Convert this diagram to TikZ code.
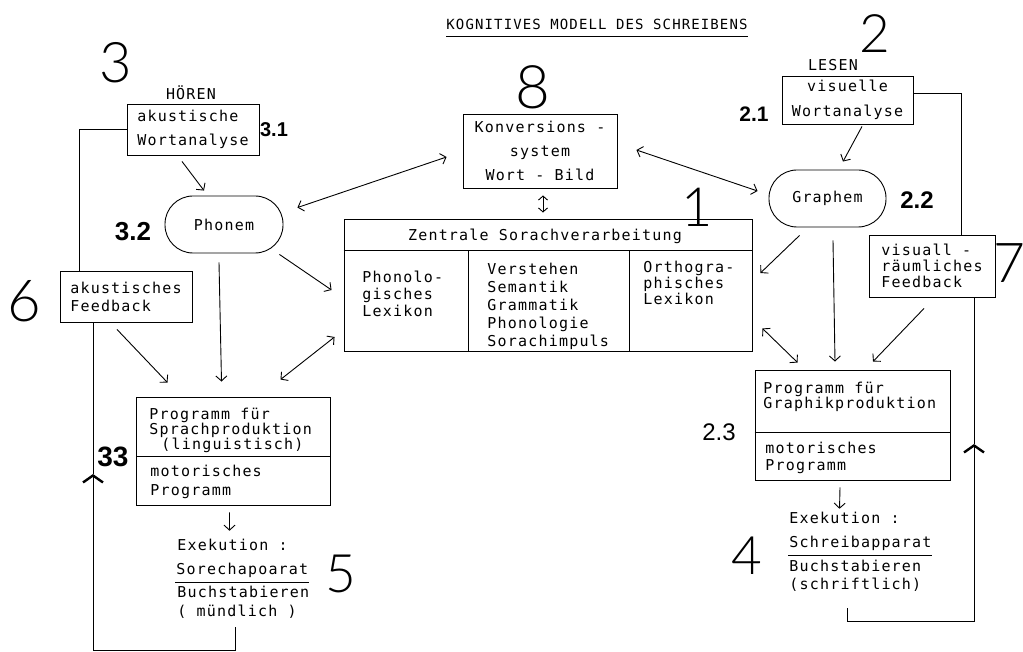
\documentclass[tikz,border=0pt]{standalone}
\usepackage{fontspec}
\newfontfamily\tw[LetterSpace=8]{DejaVu Sans Mono}
\newfontfamily\hand{Lato Light}
\newfontfamily\handb{Liberation Sans}
\usetikzlibrary{arrows.meta,calc}
\begin{document}
\begin{tikzpicture}[x=1pt,y=-1pt,line width=0.9pt,
  every node/.style={inner sep=0pt},
  tx/.style={font=\tw\fontsize{15}{#1}\selectfont,align=left},
  tx/.default=17,
  bx/.style={draw},
  arr/.style={-{Straight Barb[length=5pt,width=11pt]}},
  darr/.style={{Straight Barb[length=5pt,width=11pt]}-{Straight Barb[length=5pt,width=11pt]}},
  sdarr/.style={{Straight Barb[length=4pt,width=9pt]}-{Straight Barb[length=4pt,width=9pt]}},
  looparr/.style={-{Straight Barb[length=7pt,width=20pt,line width=2.4pt]}},
  num/.style={font=\hand\fontsize{#1}{#1}\selectfont},
  lab/.style={font=\handb\bfseries\fontsize{#1}{#1}\selectfont},
  labt/.style={font=\handb\fontsize{#1}{#1}\selectfont}]
\useasboundingbox (0,0) rectangle (1023,652);
\fill[white] (0,0) rectangle (1023,652);

% title
\node[font=\tw\fontsize{14}{14}\selectfont] (title) at (597,24) {KOGNITIVES MODELL DES SCHREIBENS};
\draw ($(title.south west)+(0,7)$) -- ($(title.south east)+(0,7)$);

% handwritten numbers
\node[num=56] (n3) at (116,63) {3};
\node[num=53] (n2) at (875,34) {2};
\node[num=60] (n8) at (533,87) {8};
\node[num=54] (n1) at (697,207) {1};
\node[num=58] (n6) at (24,301) {6};
\node[num=55] (n7) at (1009,263) {7};
\node[num=53] (n5) at (341,574) {5};
\node[num=53] (n4) at (747,556) {4};
\node[lab=20] (l31) at (274,130) {3.1};
\node[lab=26] (l32) at (133,232) {3.2};
\node[lab=21] (l21) at (754,114) {2.1};
\node[lab=24] (l22) at (917,200) {2.2};
\node[labt=24] (l23) at (719,432) {2.3};
\node[lab=28] (l33) at (113,457) {33};

% left side
\node[tx] (hoeren) at (191,93) {HÖREN};
\node[bx,tx=24,minimum width=132pt,minimum height=51pt] (akw) at (193,129.5) {akustische\\Wortanalyse};
\node[bx,tx,rounded corners=28pt,minimum width=118pt,minimum height=57pt] (phon) at (224,224.5) {Phonem};
\node[bx,tx=18,minimum width=132pt,minimum height=51pt] (akf) at (126,296.5) {akustisches\\Feedback};
\node[bx,minimum width=194pt,minimum height=108pt] (pl) at (233.5,451) {};
\draw ($(pl.west)+(0,5)$) -- ($(pl.east)+(0,5)$);
\node[tx=15,anchor=west] (plt1) at (149,430) {Programm für\\Sprachproduktion\\\hspace*{12pt}(linguistisch)};
\node[tx=19,anchor=west] (plt2) at (150,482) {motorisches\\Programm};
\node[tx,anchor=west] (exl1) at (177,545) {Exekution :};
\node[tx,anchor=base west] (exl2) at (176,574) {Sorechapoarat};
\draw ($(exl2.base west)+(-1,8)$) -- ($(exl2.base east)+(0,8)$);
\node[tx=19,anchor=west] (exl3) at (177,602.5) {Buchstabieren\\( mündlich )};

% centre
\node[bx,tx=24,align=center,minimum width=154pt,minimum height=74pt] (konv) at (540,151) {Konversions -\\system\\Wort - Bild};
\node[bx,minimum width=408pt,minimum height=132pt] (zsv) at (548,285) {};
\draw ($(zsv.north west)+(0,32)$) -- ($(zsv.north east)+(0,32)$);
\draw ($(zsv.north west)+(125,32)$) -- ($(zsv.south west)+(125,0)$);
\draw ($(zsv.north west)+(286,32)$) -- ($(zsv.south west)+(286,0)$);
\node[tx] (zh) at (545,236) {Zentrale Sorachverarbeitung};
\node[tx,anchor=west] (c1) at (362,294) {Phonolo-\\gisches\\Lexikon};
\node[tx=18,anchor=west] (c2) at (487,306) {Verstehen\\Semantik\\Grammatik\\Phonologie\\Sorachimpuls};
\node[tx=16,anchor=west] (c3) at (643,283) {Orthogra-\\phisches\\Lexikon};

% right side
\node[tx] (lesen) at (833,65) {LESEN};
\node[bx,tx=25,align=center,minimum width=131pt,minimum height=48pt] (vwa) at (847.5,100) {visuelle\\Wortanalyse};
\node[bx,tx,rounded corners=28pt,minimum width=117pt,minimum height=57pt] (graph) at (827.5,198.5) {Graphem};
\node[bx,tx=16,minimum width=126pt,minimum height=62pt] (vrf) at (932,266) {visuall -\\räumliches\\Feedback};
\node[bx,minimum width=195pt,minimum height=110pt] (pr) at (852.5,425) {};
\draw ($(pr.west)+(0,7)$) -- ($(pr.east)+(0,7)$);
\node[tx=15,anchor=west] (prt1) at (763,397) {Programm für\\Graphikproduktion};
\node[tx=17,anchor=west] (prt2) at (765,458) {motorisches\\Programm};
\node[tx,anchor=west] (exr1) at (789,518) {Exekution :};
\node[tx,anchor=base west] (exr2) at (789,547) {Schreibapparat};
\draw ($(exr2.base west)+(-1,8)$) -- ($(exr2.base east)+(0,8)$);
\node[tx=18,anchor=west] (exr3) at (789,576) {Buchstabieren\\(schriftlich)};

% connectors left
\draw[arr] ($(akw.south)+(-11,6)$) -- ($(phon.north)+(-20,-5)$);
\draw[darr] ($(phon.north east)+(14,12)$) -- ($(konv.west)+(-16,6)$);
\draw[arr] ($(phon.south east)+(-4,1)$) -- ($(zsv.west)+(-12,5)$);
\draw[arr] ($(phon.south)+(-5,9)$) -- ($(pl.north)+(-12,-15)$);
\draw[arr] ($(akf.south)+(-9,7)$) -- ($(pl.north)+(-66,-14)$);
\draw[darr] ($(pl.north)+(47,-17)$) -- ($(zsv.west)+(-9,52)$);
\draw[arr] ($(pl.south)+(-4,7)$) -- ($(exl1.north)+(-3,-8)$);
\draw (akw.west) -| ($(akf.north west)+(20,0)$);
\coordinate (lstart) at (235,627);
\coordinate (lchev) at (93,474);
\draw[looparr] (lstart) -- (235,650) -| (lchev);
\draw (lchev) -- (lchev |- akf.south);

% connectors centre
\draw[sdarr] ($(konv.south)+(3,7)$) -- ($(zsv.north)+(-5,-6)$);
\draw[darr] ($(konv.east)+(19,-1)$) -- ($(graph.west)+(-11,-7.5)$);

% connectors right
\draw[arr] ($(vwa.south)+(14.5,2)$) -- ($(graph.north)+(15.5,-8)$);
\draw[arr] ($(graph.south west)+(31,8)$) -- ($(zsv.east)+(8,-12)$);
\draw[arr] ($(graph.south)+(5.5,13)$) -- ($(pr.north)+(-17.5,-8)$);
\draw[darr] ($(zsv.south east)+(10,-23)$) -- ($(pr.north west)+(43,-7)$);
\draw[arr] ($(vrf.south)+(-8,11)$) -- ($(pr.north)+(20.5,-8)$);
\draw[arr] ($(pr.south)+(-12.5,7)$) -- ($(exr1.north)+(-5,-3)$);
\draw ($(vwa.east)+(0,-7)$) -| ($(vrf.north west)+(93,0)$);
\coordinate (rstart) at (847,608);
\coordinate (rchev) at (974,444);
\draw[looparr] (rstart) -- (847,621) -| (rchev);
\draw (rchev) -- (rchev |- vrf.south);
\end{tikzpicture}
\end{document}
